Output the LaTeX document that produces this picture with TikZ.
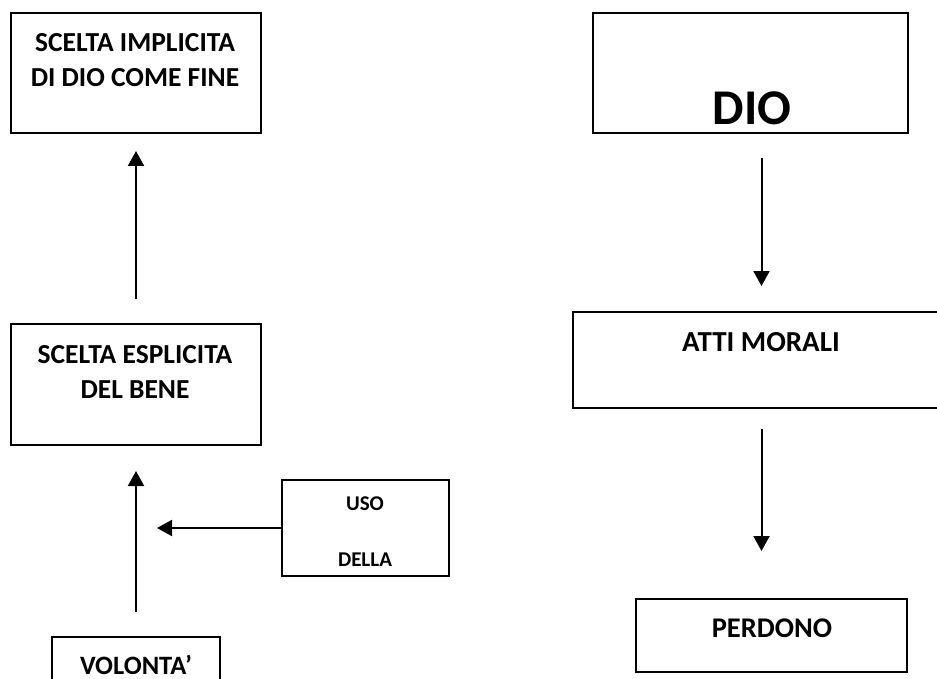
\documentclass[tikz,border=0pt]{standalone}
\usepackage{fontspec}
\setmainfont{Carlito}
\usetikzlibrary{arrows.meta}
\begin{document}
\begin{tikzpicture}[x=1pt,y=-1pt,
  box/.style={draw,line width=2pt,inner sep=0pt},
  txt/.style={font=\bfseries\fontsize{27.5}{35}\selectfont,align=center,inner sep=0pt},
  arr/.style={line width=2pt,-{Triangle[length=15pt,width=16pt]}}]
\useasboundingbox (0,0) rectangle (937,679);
% left column
\node[box,minimum width=250pt,minimum height=120pt] (implicita) at (136,73) {};
\node[txt] (t-implicita) at (135,60.5) {SCELTA IMPLICITA\\DI DIO COME FINE};
\node[box,minimum width=250pt,minimum height=121pt] (esplicita) at (136,384.5) {};
\node[txt] (t-esplicita) at (135,371.5) {SCELTA ESPLICITA\\DEL BENE};
\node[box,minimum width=167pt,minimum height=96pt] (uso) at (365.5,528) {};
\node[txt,font=\bfseries\fontsize{21}{22}\selectfont] (t-uso) at (365,532) {USO\\[34pt]DELLA};
\node[box,minimum width=168pt,minimum height=73pt] (volonta) at (136,673.5) {};
\node[txt,font=\bfseries\fontsize{26.5}{30}\selectfont] (t-volonta) at (136,665) {VOLONTA’};
\coordinate (join) at (136,528);
% right column
\node[box,minimum width=315pt,minimum height=120pt] (dio) at (750.5,73) {};
\node[txt,font=\bfseries\fontsize{50}{52}\selectfont] (t-dio) at (752,108) {DIO};
\node[box,minimum width=377pt,minimum height=96pt] (atti) at (761.5,360) {};
\node[txt,font=\bfseries\fontsize{29}{32}\selectfont] (t-atti) at (761,342) {ATTI MORALI};
\node[box,minimum width=271pt,minimum height=73pt] (perdono) at (771.5,635.5) {};
\node[txt,font=\bfseries\fontsize{28.5}{32}\selectfont] (t-perdono) at (772,628) {PERDONO};
% connectors
\draw[arr,shorten <=24pt,shorten >=17pt] (esplicita.north) -- (implicita.south);
\draw[arr,shorten <=24pt,shorten >=25pt] (volonta.north) -- (esplicita.south);
\draw[arr,shorten >=21pt] (uso.west) -- (join);
\draw[arr,shorten <=24pt,shorten >=25pt] (atti.north |- dio.south) -- (atti.north);
\draw[arr,shorten <=20pt,shorten >=47pt] (atti.south) -- (atti.south |- perdono.north);
\end{tikzpicture}
\end{document}
